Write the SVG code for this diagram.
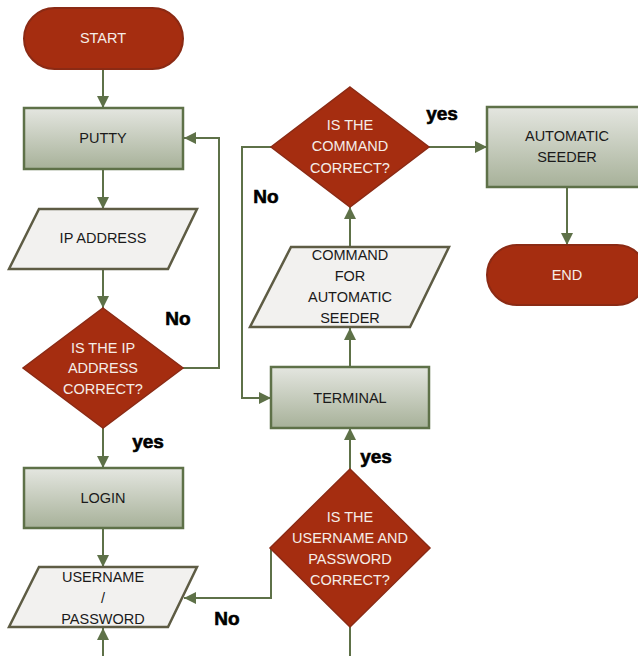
<svg xmlns="http://www.w3.org/2000/svg" width="638" height="656" viewBox="0 0 638 656">
<defs>
<linearGradient id="g" x1="0" y1="0" x2="0" y2="1">
<stop offset="0" stop-color="#E4E6E0"/>
<stop offset="1" stop-color="#A7B199"/>
</linearGradient>
<marker id="ah" viewBox="0 0 12 12" refX="12" refY="6" markerWidth="12" markerHeight="12" markerUnits="userSpaceOnUse" orient="auto">
<path d="M0,0 L12,6 L0,12 z" fill="#5E7148"/>
</marker>
<style>
.term{fill:#A52D10;stroke:#8B2A14;stroke-width:2}
.dec{fill:#A52D10;stroke:#8B2A14;stroke-width:1.5}
.proc{fill:url(#g);stroke:#5E7148;stroke-width:2.5}
.io{fill:#F2F1EF;stroke:#5E5C44;stroke-width:2.5}
.c{fill:none;stroke:#5E7148;stroke-width:2}
text{font-family:"Liberation Sans",Arial,sans-serif;font-size:14.5px;text-anchor:middle;dominant-baseline:central}
.w{fill:#F5EDE8}
.k{fill:#1a1a1a}
.lb{font-weight:bold;font-size:19px;fill:#000;stroke:#000;stroke-width:0.6}
</style>
</defs>
<g id="connectors">
<path class="c" d="M103,69 V108" marker-end="url(#ah)"/>
<path class="c" d="M103,169 V209" marker-end="url(#ah)"/>
<path class="c" d="M103,269 V308" marker-end="url(#ah)"/>
<path class="c" d="M183,368 H219 V138 H184" marker-end="url(#ah)"/>
<path class="c" d="M103,428 V468" marker-end="url(#ah)"/>
<path class="c" d="M103,528 V567" marker-end="url(#ah)"/>
<path class="c" d="M103,656 V628" marker-end="url(#ah)"/>
<path class="c" d="M271,548 V598 H184" marker-end="url(#ah)"/>
<path class="c" d="M350,656 V627"/>
<path class="c" d="M350,469 V428" marker-end="url(#ah)"/>
<path class="c" d="M350,367 V328" marker-end="url(#ah)"/>
<path class="c" d="M350,247 V207" marker-end="url(#ah)"/>
<path class="c" d="M271,147 H242 V398 H271" marker-end="url(#ah)"/>
<path class="c" d="M429,147 H487" marker-end="url(#ah)"/>
<path class="c" d="M567,187 V245" marker-end="url(#ah)"/>
<text class="lb" x="178" y="318">No</text>
<text class="lb" x="148" y="441">yes</text>
<text class="lb" x="227" y="618">No</text>
<text class="lb" x="376" y="456">yes</text>
<text class="lb" x="266" y="196">No</text>
<text class="lb" x="442" y="113">yes</text>
</g>
<g id="start">
<rect class="term" x="24" y="8" width="159" height="61" rx="30.5"/>
<text class="w" x="103" y="38">START</text>
</g>
<g id="putty">
<rect class="proc" x="24" y="108" width="159" height="61"/>
<text class="k" x="103" y="138">PUTTY</text>
</g>
<g id="ipaddress">
<polygon class="io" points="39,209 197,209 168,269 9,269"/>
<text class="k" x="103" y="238">IP ADDRESS</text>
</g>
<g id="ipcheck">
<polygon class="dec" points="103,308 183,368 103,428 23,368"/>
<text class="w" x="103" y="348">IS THE IP</text>
<text class="w" x="103" y="368">ADDRESS</text>
<text class="w" x="103" y="389">CORRECT?</text>
</g>
<g id="login">
<rect class="proc" x="24" y="468" width="159" height="60"/>
<text class="k" x="103" y="498">LOGIN</text>
</g>
<g id="userpass">
<polygon class="io" points="39,567 197,567 168,627 9,627"/>
<text class="k" x="103" y="577">USERNAME</text>
<text class="k" x="103" y="598">/</text>
<text class="k" x="103" y="619">PASSWORD</text>
</g>
<g id="usercheck">
<polygon class="dec" points="350,469 430,548 350,627 270,548"/>
<text class="w" x="350" y="517">IS THE</text>
<text class="w" x="350" y="538">USERNAME AND</text>
<text class="w" x="350" y="559">PASSWORD</text>
<text class="w" x="350" y="580">CORRECT?</text>
</g>
<g id="terminal">
<rect class="proc" x="271" y="367" width="158" height="61"/>
<text class="k" x="350" y="398">TERMINAL</text>
</g>
<g id="command">
<polygon class="io" points="291,247 449,247 410,327 250,327"/>
<text class="k" x="350" y="255">COMMAND</text>
<text class="k" x="350" y="276">FOR</text>
<text class="k" x="350" y="297">AUTOMATIC</text>
<text class="k" x="350" y="318">SEEDER</text>
</g>
<g id="cmdcheck">
<polygon class="dec" points="350,87 429,147 350,207 271,147"/>
<text class="w" x="350" y="125">IS THE</text>
<text class="w" x="350" y="146">COMMAND</text>
<text class="w" x="350" y="168">CORRECT?</text>
</g>
<g id="seeder">
<rect class="proc" x="487" y="107" width="160" height="80"/>
<text class="k" x="567" y="136">AUTOMATIC</text>
<text class="k" x="567" y="157">SEEDER</text>
</g>
<g id="end">
<rect class="term" x="487" y="245" width="160" height="60" rx="30"/>
<text class="w" x="567" y="275">END</text>
</g>
</svg>
